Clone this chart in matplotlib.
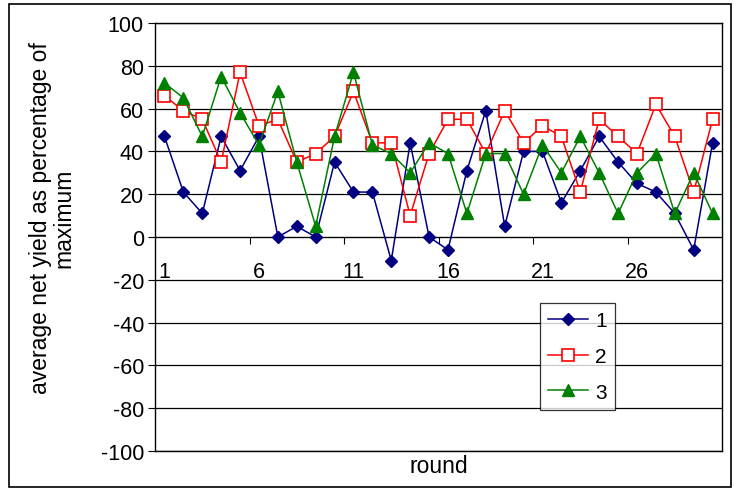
import matplotlib
matplotlib.use("Agg")
import matplotlib.pyplot as plt
from matplotlib.patches import Rectangle

plt.rcParams['font.family'] = ['Liberation Sans', 'DejaVu Sans']
plt.rcParams['axes.unicode_minus'] = False

rounds = list(range(1, 31))
series_1 = [47, 21, 11, 47, 31, 47, 0, 5, 0, 35, 21, 21, -11, 44, 0,
            -6, 31, 59, 5, 40, 40, 16, 31, 47, 35, 25, 21, 11, -6, 44]
series_2 = [66, 59, 55, 35, 77, 52, 55, 35, 39, 47, 68, 44, 44, 10, 39,
            55, 55, 39, 59, 44, 52, 47, 21, 55, 47, 39, 62, 47, 21, 55]
series_3 = [72, 65, 47, 75, 58, 43, 68, 35, 5, 47, 77, 43, 39, 30, 44,
            39, 11, 39, 39, 20, 43, 30, 47, 30, 11, 30, 39, 11, 30, 11]
y_ticks = list(range(-100, 101, 20))
x_labels = [1, 6, 11, 16, 21, 26]

fig = plt.figure(figsize=(7.34, 4.89), dpi=100)
ax = fig.add_axes([0.2112, 0.0757, 0.7725, 0.8752])

ax.plot(rounds, series_1, color='#000080', lw=1.1, marker='D', ms=6,
        mfc='#000080', mec='#000080', label='1')
ax.plot(rounds, series_2, color='#FF0000', lw=1.1, marker='s', ms=9,
        mfc='white', mec='#FF0000', mew=1.2, label='2')
ax.plot(rounds, series_3, color='#008000', lw=1.1, marker='^', ms=8,
        mfc='#008000', mec='#008000', label='3')

ax.set_xlim(0.5, 30.5)
ax.set_ylim(-100, 100)
ax.set_yticks(y_ticks)
ax.tick_params(axis='y', direction='out', length=5, labelsize=15.5, pad=3)
ax.yaxis.grid(True, color='black', lw=0.9)
ax.set_axisbelow(True)
for s in ax.spines.values():
    s.set_color('black')
    s.set_linewidth(1.0)

# category axis crosses at zero, ticks between categories every 5
ax.set_xticks([])
secax = ax.secondary_xaxis(0.5)
secax.xaxis.set_ticks_position('bottom')
secax.spines['bottom'].set_linewidth(1.0)
secax.set_xticks([5.5, 10.5, 15.5, 20.5, 25.5])
secax.set_xticklabels([])
secax.set_xticks(x_labels, minor=True)
secax.set_xticklabels([str(v) for v in x_labels], minor=True)
secax.tick_params(axis='x', which='major', direction='out', length=5)
secax.tick_params(axis='x', which='minor', length=0, labelsize=15.5, pad=17,
                  labelbottom=True, labeltop=False)

ax.set_ylabel('average net yield as percentage of\nmaximum', fontsize=16.5,
              linespacing=1.05)
ax.yaxis.set_label_coords(-0.14, 0.547)
ax.set_xlabel('round', fontsize=16.5, labelpad=2)

leg = fig.legend(loc='upper left', bbox_to_anchor=(0.7357, 0.3783),
                 fontsize=15, frameon=True, fancybox=False, handlelength=1.9,
                 borderaxespad=0, borderpad=0.4, labelspacing=0.8,
                 handletextpad=0.35)
leg.get_frame().set_edgecolor('black')
leg.get_frame().set_linewidth(0.9)

fig.patches.append(Rectangle((0.012, 0.003), 0.984, 0.987, transform=fig.transFigure,
                             fill=False, edgecolor='black', lw=1.2))

fig.savefig('out.png', dpi=100)
